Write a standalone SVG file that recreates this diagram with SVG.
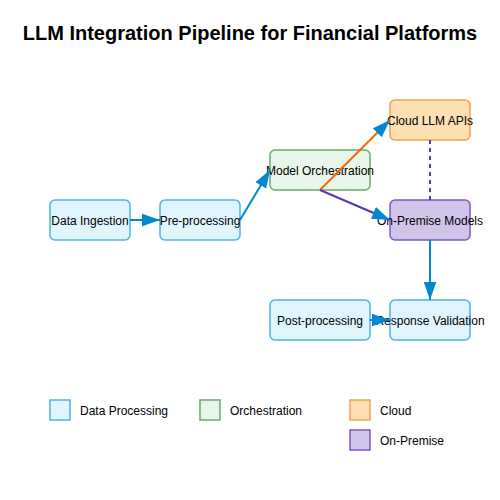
<svg xmlns="http://www.w3.org/2000/svg" width="500" height="500" viewBox="0 0 500 500">
<style>
.title{font-family:"Liberation Sans",Arial,sans-serif;font-size:20px;font-weight:bold;fill:#000;text-anchor:middle}
.lbl{font-family:"Liberation Sans",Arial,sans-serif;font-size:12px;fill:#000;text-anchor:middle;dominant-baseline:central}
.leg{font-family:"Liberation Sans",Arial,sans-serif;font-size:12px;fill:#000;dominant-baseline:central}
.data{fill:#e1f5fe;stroke:#4fb3e8;stroke-width:1.5}
.orch{fill:#e8f5e9;stroke:#6aab6e;stroke-width:1.5}
.cloud{fill:#ffe0b2;stroke:#f5a050;stroke-width:1.5}
.prem{fill:#d1c4e9;stroke:#7e57c2;stroke-width:1.5}
.e{fill:none;stroke-width:2}
</style>
<defs>
<marker id="ah" viewBox="0 0 10 7" markerWidth="9" markerHeight="6.5" refX="10" refY="3.5" orient="auto">
<path d="M0,0 L10,3.5 L0,7 Z" fill="#0288d1"/>
</marker>
</defs>
<rect width="500" height="500" fill="#fff"/>
<text class="title" x="250" y="40">LLM Integration Pipeline for Financial Platforms</text>
<g id="data-ingestion"><rect class="data" x="50" y="200" width="80" height="40" rx="5"/><text class="lbl" x="90" y="220.5">Data Ingestion</text></g>
<g id="pre-processing"><rect class="data" x="160" y="200" width="80" height="40" rx="5"/><text class="lbl" x="200" y="220.5">Pre-processing</text></g>
<g id="model-orchestration"><rect class="orch" x="270" y="150" width="100" height="40" rx="5"/><text class="lbl" x="320" y="170.5">Model Orchestration</text></g>
<g id="cloud-llm-apis"><rect class="cloud" x="390" y="100" width="80" height="40" rx="5"/><text class="lbl" x="430" y="120.5">Cloud LLM APIs</text></g>
<g id="on-premise-models"><rect class="prem" x="390" y="200" width="80" height="40" rx="5"/><text class="lbl" x="430" y="220.5">On-Premise Models</text></g>
<g id="post-processing"><rect class="data" x="270" y="300" width="100" height="40" rx="5"/><text class="lbl" x="320" y="320.5">Post-processing</text></g>
<g id="response-validation"><rect class="data" x="390" y="300" width="80" height="40" rx="5"/><text class="lbl" x="430" y="320.5">Response Validation</text></g>
<g id="connectors">
<line class="e" x1="130" y1="220" x2="160" y2="220" stroke="#0288d1" marker-end="url(#ah)"/>
<line class="e" x1="240" y1="220" x2="270" y2="170" stroke="#0288d1" marker-end="url(#ah)"/>
<line class="e" x1="320" y1="190" x2="390" y2="120" stroke="#ef6c00" marker-end="url(#ah)"/>
<line class="e" x1="320" y1="190" x2="390" y2="220" stroke="#5e35b1" marker-end="url(#ah)"/>
<line class="e" x1="430" y1="140" x2="430" y2="200" stroke="#5e35b1" stroke-dasharray="4,4"/>
<line class="e" x1="430" y1="240" x2="430" y2="300" stroke="#0288d1" marker-end="url(#ah)"/>
<line class="e" x1="370" y1="320" x2="390" y2="320" stroke="#0288d1" marker-end="url(#ah)"/>
</g>
<g id="legend">
<rect class="data" x="50" y="400" width="20" height="20"/><text class="leg" x="80" y="410.5">Data Processing</text>
<rect class="orch" x="200" y="400" width="20" height="20"/><text class="leg" x="230" y="410.5">Orchestration</text>
<rect class="cloud" x="350" y="400" width="20" height="20"/><text class="leg" x="380" y="410.5">Cloud</text>
<rect class="prem" x="350" y="430" width="20" height="20"/><text class="leg" x="380" y="440.5">On-Premise</text>
</g>
</svg>
